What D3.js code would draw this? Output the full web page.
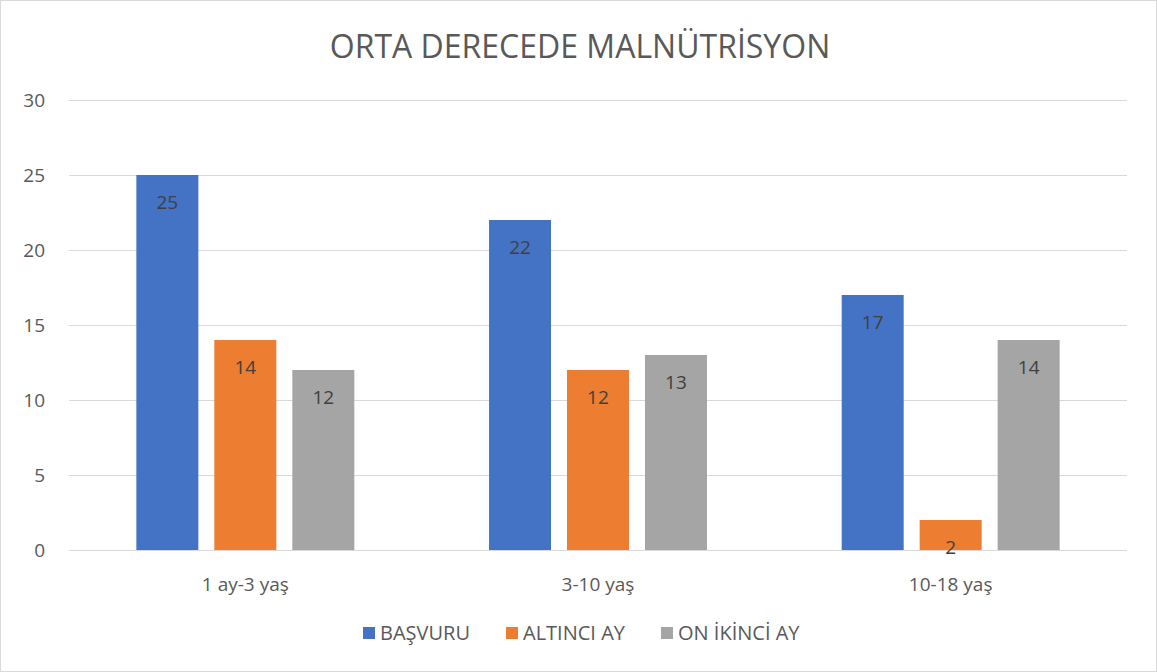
<!DOCTYPE html>
<html>
<head>
<meta charset="utf-8">
<script src="https://cdn.jsdelivr.net/npm/d3@7"></script>
<style>
  body { margin: 0; background: #fff; }
  svg { font-family: "Open Sans", Lato, sans-serif; }
</style>
</head>
<body>
<script>
// chart data
const categories = ["1 ay-3 yaş", "3-10 yaş", "10-18 yaş"];
const seriesNames = ["BAŞVURU", "ALTINCI AY", "ON İKİNCİ AY"];
const basvuru = [25, 22, 17];
const altinciAy = [14, 12, 2];
const onIkinciAy = [12, 13, 14];
const yTicks = [0, 5, 10, 15, 20, 25, 30];
const colors = ["#4472c4", "#ed7d31", "#a5a5a5"];

const seriesValues = [basvuru, altinciAy, onIkinciAy];

const width = 1157, height = 672;
const margin = {top: 100, right: 30, bottom: 122, left: 69};

const svg = d3.select("body").append("svg")
    .attr("width", width)
    .attr("height", height);

// outer border
svg.append("rect")
    .attr("x", 0.5).attr("y", 0.5)
    .attr("width", width - 1).attr("height", height - 1)
    .attr("fill", "#fff")
    .attr("stroke", "#d9d9d9");

svg.append("text")
    .attr("x", 580).attr("y", 58)
    .attr("text-anchor", "middle")
    .attr("fill", "#595959")
    .attr("font-size", 32)
    .text("ORTA DERECEDE MALNÜTRİSYON");

const x0 = d3.scaleBand()
    .domain(categories)
    .range([margin.left, width - margin.right])
    .paddingInner(0.382)
    .paddingOuter(0.191);

const x1 = d3.scaleBand()
    .domain(seriesNames)
    .range([0, x0.bandwidth()])
    .paddingInner(0.205)
    .paddingOuter(0);

const y = d3.scaleLinear()
    .domain([0, 30])
    .range([height - margin.bottom, margin.top]);

// gridlines
svg.append("g")
  .selectAll("line")
  .data(yTicks)
  .join("line")
    .attr("x1", margin.left).attr("x2", width - margin.right)
    .attr("y1", d => y(d) + 0.5).attr("y2", d => y(d) + 0.5)
    .attr("stroke", "#d9d9d9")
    .attr("stroke-width", 1);

// y tick labels
svg.append("g")
  .selectAll("text")
  .data(yTicks)
  .join("text")
    .attr("x", 45)
    .attr("y", d => y(d))
    .attr("dy", "0.35em")
    .attr("text-anchor", "end")
    .attr("fill", "#595959")
    .attr("font-size", 19)
    .text(d => d);

// bars
const groups = svg.append("g")
  .selectAll("g")
  .data(categories)
  .join("g")
    .attr("transform", d => `translate(${x0(d)},0)`);

groups.selectAll("rect")
  .data((c, ci) => seriesNames.map((s, si) => ({s, si, v: seriesValues[si][ci]})))
  .join("rect")
    .attr("x", d => x1(d.s))
    .attr("y", d => y(d.v))
    .attr("width", x1.bandwidth())
    .attr("height", d => y(0) - y(d.v))
    .attr("fill", d => colors[d.si]);

groups.selectAll("text")
  .data((c, ci) => seriesNames.map((s, si) => ({s, si, v: seriesValues[si][ci]})))
  .join("text")
    .attr("x", d => x1(d.s) + x1.bandwidth() / 2)
    .attr("y", d => y(d.v) + 34)
    .attr("text-anchor", "middle")
    .attr("fill", "#404040")
    .attr("font-size", 19)
    .text(d => d.v);

// category labels
svg.append("g")
  .selectAll("text")
  .data(categories)
  .join("text")
    .attr("x", d => x0(d) + x0.bandwidth() / 2)
    .attr("y", 591)
    .attr("text-anchor", "middle")
    .attr("fill", "#595959")
    .attr("font-size", 19)
    .text(d => d);

// legend
const legendX = [363, 506, 661];
const legend = svg.append("g")
  .selectAll("g")
  .data(seriesNames)
  .join("g")
    .attr("transform", (d, i) => `translate(${legendX[i]},627)`);

legend.append("rect")
    .attr("width", 12).attr("height", 12)
    .attr("fill", (d, i) => colors[i]);

legend.append("text")
    .attr("x", 17).attr("y", 6)
    .attr("dy", "0.35em")
    .attr("fill", "#595959")
    .attr("font-size", 20)
    .text(d => d);
</script>
</body>
</html>
